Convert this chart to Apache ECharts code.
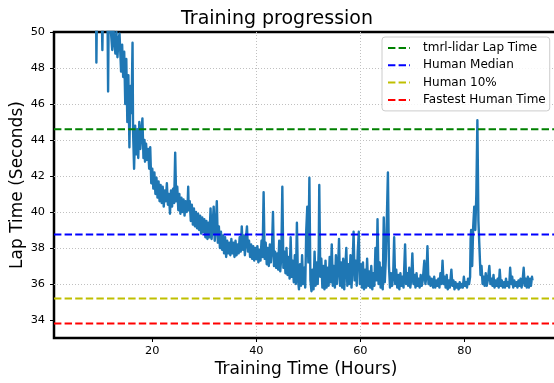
<!DOCTYPE html>
<html>
<head>
<meta charset="utf-8">
<script src="https://cdn.jsdelivr.net/npm/echarts@6/dist/echarts.min.js"></script>
<style>html,body{margin:0;padding:0;background:#fff;}#c{width:554px;height:383px;}</style>
</head>
<body>
<div id="c"></div>
<script>
const titleText = 'Training progression';
const xAxisName = 'Training Time (Hours)';
const yAxisName = 'Lap Time (Seconds)';
const xRange = [1.1, 98];
const yRange = [33, 50];
const xTicks = [20, 40, 60, 80];
const yTicks = [34, 36, 38, 40, 42, 44, 46, 48, 50];

const hours = [
9.2,9.25,9.35,9.8,10.3,10.4,10.5,11.0,11.4,11.5,11.6,12.0,12.3,12.5,12.9,13.1,13.3,13.5,13.7,14.0,
14.2,14.4,14.6,14.8,15.0,15.2,15.4,15.6,15.8,16.0,16.2,16.3,16.5,16.7,16.9,
17.1,17.3,17.5,17.7,17.9,18.1,18.3,18.5,18.6,18.8,19.0,19.2,19.4,19.6,19.8,
20.0,20.2,20.4,20.6,20.8,21.0,21.2,21.4,21.6,21.8,22.0,22.2,22.4,22.6,22.8,23.0,23.2,23.4,23.6,23.8,
24.0,24.2,24.4,24.6,24.8,25.0,25.2,25.4,25.6,25.8,26.0,26.2,26.4,26.6,26.8,26.9,27.0,27.2,27.4,27.6,
27.8,28.0,28.2,28.4,28.6,28.8,29.0,29.2,29.4,29.6,29.8,
30.0,30.2,30.4,30.6,30.8,31.0,31.2,31.4,31.6,31.8,32.0,32.2,32.4,32.6,32.8,33.0,33.2,33.4,33.6,33.8,
34.0,34.2,34.4,34.6,34.8,35.0,35.2,35.4,35.6,35.8,36.0,36.2,36.4,36.6,36.8,37.0,37.2,37.4,37.6,37.8,
38.0,38.2,38.4,38.6,38.8,39.0,39.2,39.4,39.6,39.8,40.0,40.2,40.4,40.6,40.8,41.0,41.2,41.4,41.6,41.8,
42.0,42.2,42.4,42.6,42.8,43.0,43.2,43.4,43.6,43.8,44.0,44.2,44.4,44.6,44.8,45.0,45.2,45.4,45.6,45.8,
46.0,46.2,46.4,46.6,46.8,47.0,47.2,47.4,47.6,47.8,48.0,48.2,48.4,48.6,48.8,49.0,49.2,49.4,49.6,49.8,
50.0,50.2,50.4,50.6,50.8,51.0,51.2,51.4,51.6,51.8,52.0,52.1,52.3,52.5,52.7,52.9,53.1,53.3,53.5,53.7,
53.9,54.1,54.3,54.5,54.7,54.9,55.1,55.3,55.5,55.7,55.9,56.1,56.3,56.5,56.7,56.9,57.1,57.3,57.5,57.7,
57.9,58.1,58.3,58.5,58.7,58.9,59.1,59.3,59.5,59.7,59.9,60.1,60.3,60.5,60.7,60.9,61.1,61.3,61.5,61.7,
61.9,62.1,62.3,62.5,62.7,62.9,63.1,63.3,63.5,63.7,63.9,64.1,64.3,64.5,64.7,64.9,65.1,65.3,65.5,65.7,
65.9,66.1,66.3,66.5,66.7,66.9,67.1,67.3,67.5,67.7,67.9,68.1,68.3,68.6,68.8,69.0,69.2,69.4,69.6,69.8,
70.0,70.2,70.4,70.6,70.8,71.0,71.2,71.4,71.6,71.8,72.0,72.3,72.5,72.7,72.9,73.1,73.3,
73.5,73.7,74.0,74.2,74.4,74.6,74.8,75.0,75.2,75.4,75.6,75.8,76.0,76.2,76.4,76.6,76.8,77.0,77.2,77.5,
77.7,77.9,78.1,78.3,78.5,78.7,78.9,79.1,79.3,79.5,79.7,79.9,80.1,80.3,80.5,80.7,80.9,81.1,81.2,81.3,
81.5,81.7,81.9,82.1,82.3,82.5,82.7,82.9,83.1,83.3,83.5,83.7,83.9,84.1,84.3,84.5,84.8,85.0,85.2,85.4,
85.6,85.8,86.0,86.2,86.4,86.6,86.8,87.0,87.2,87.4,87.6,87.8,88.0,88.2,88.4,88.6,88.8,89.0,89.2,89.4,
89.6,89.8,90.0,90.2,90.4,90.6,90.8,91.0,91.2,91.4,91.6,91.8,92.0,92.2,92.4,92.6,92.8,93.0,93.1
];
const lapTimes = [
51.0,48.3,51.0,50.5,50.8,49.0,51.0,50.5,50.6,46.7,50.5,50.2,49.0,50.3,48.8,50.0,48.6,49.6,49.9,47.8,
49.3,47.5,48.9,46.0,48.5,45.0,47.6,43.6,47.0,45.5,49.4,44.5,42.4,44.8,43.2,
44.6,43.0,45.0,43.5,44.5,45.2,43.0,44.0,42.8,43.8,42.9,43.5,42.4,43.6,41.6,
42.4,41.3,42.2,41.0,41.9,40.8,41.7,40.6,41.5,40.5,41.4,40.3,41.2,40.6,41.6,40.4,41.0,39.9,41.2,40.3,
41.3,40.5,43.3,40.6,41.4,40.1,41.0,39.9,40.8,40.0,40.7,39.8,40.6,40.0,40.5,41.4,40.1,40.6,39.5,40.4,
39.3,40.2,39.2,40.0,39.1,39.9,39.0,39.8,38.8,39.7,38.9,
39.6,38.6,39.5,38.5,39.4,38.6,40.2,38.5,39.3,40.3,38.4,39.1,40.6,38.3,39.2,38.0,38.9,37.9,38.7,37.7,
38.6,37.5,38.4,37.7,38.3,37.6,38.5,37.7,38.3,37.5,38.4,37.6,38.2,37.7,38.6,37.8,39.2,37.9,38.7,37.6,
38.5,39.2,37.8,38.4,37.5,38.2,37.4,38.1,37.3,38.0,37.4,38.1,37.2,37.9,37.3,38.4,37.5,41.1,37.4,38.3,
37.1,38.0,37.0,38.2,37.2,37.9,40.0,37.0,37.8,36.9,37.7,36.8,38.4,36.7,37.5,41.4,36.9,37.8,36.6,38.0,
36.5,37.5,36.3,38.6,36.4,37.3,36.1,37.6,36.0,39.4,36.3,35.7,37.1,35.9,37.6,36.0,36.9,35.8,39.0,40.3,
37.2,41.9,36.2,35.6,36.8,35.7,37.8,35.9,37.2,36.0,38.0,41.5,36.4,37.4,35.8,37.0,35.7,37.3,35.8,36.9,
35.9,37.5,36.1,38.2,35.9,37.0,35.8,37.6,36.0,36.8,38.5,35.9,37.2,35.8,37.4,35.7,36.9,38.0,35.9,37.1,
36.0,37.6,35.8,37.0,38.9,36.2,37.3,35.9,37.8,38.9,36.0,37.1,35.8,37.2,35.7,36.8,35.8,37.4,35.9,36.7,
35.8,37.0,35.7,36.6,35.9,38.0,36.2,39.6,36.0,37.2,35.8,36.9,35.7,39.7,36.1,37.4,39.7,42.2,37.0,35.8,
36.6,35.9,36.4,38.6,36.0,36.8,35.8,36.5,35.7,36.6,35.9,36.4,35.8,38.2,36.0,36.6,35.9,36.9,35.8,36.3,
37.7,36.0,36.5,35.8,36.6,35.9,36.3,35.8,36.5,35.9,36.2,37.3,36.0,36.4,38.1,36.0,36.4,
35.9,36.3,35.8,36.4,35.8,36.2,35.9,36.3,35.8,36.6,36.0,37.3,36.0,36.4,35.8,36.5,35.7,36.2,35.8,36.8,
35.9,36.2,35.7,36.1,35.8,36.0,35.7,36.1,35.8,36.0,35.8,36.4,35.9,36.1,35.8,36.3,36.0,36.4,38.5,39.0,
37.0,39.2,40.3,39.0,41.0,45.1,39.5,38.0,36.5,37.0,36.0,36.4,35.9,36.6,35.9,36.2,37.0,36.0,36.3,35.9,
36.5,35.8,36.2,35.9,36.3,35.8,36.8,35.9,36.2,35.8,36.1,35.8,36.3,35.9,36.1,35.8,36.9,36.0,36.4,35.8,
36.2,35.9,36.1,35.8,36.2,35.9,36.3,35.8,36.2,36.9,35.9,36.3,35.8,36.4,35.8,36.3,35.9,36.4,36.2
];

const refNames = ['tmrl-lidar Lap Time', 'Human Median', 'Human 10%', 'Fastest Human Time'];
const refValues = [44.6, 38.75, 35.2, 33.8];
const refColors = ['#008000', '#0000ff', '#bfbf00', '#ff0000'];

const font = 'DejaVu Sans';
const chart = echarts.init(document.getElementById('c'), null, {renderer: 'canvas'});

const series = [{
  type: 'line',
  name: 'progress',
  data: hours.map((h, i) => [h, lapTimes[i]]),
  showSymbol: false,
  symbol: 'none',
  lineStyle: {color: '#1f77b4', width: 2.4, join: 'round'},
  itemStyle: {color: '#1f77b4'},
  clip: true,
  z: 2
}];
refNames.forEach((n, i) => {
  series.push({
    type: 'line',
    name: n,
    data: [[xRange[0], refValues[i]], [xRange[1], refValues[i]]],
    symbol: 'none',
    showSymbol: false,
    lineStyle: {color: refColors[i], width: 2, type: [7.4, 3.2]},
    itemStyle: {color: refColors[i]},
    z: 3
  });
});

const gridLine = {show: true, showMinLine: false, showMaxLine: false,
  lineStyle: {color: '#c0c0c0', width: 1, type: [1, 2]}};

chart.setOption({
  animation: false,
  backgroundColor: '#ffffff',
  title: {
    text: titleText,
    left: 'center',
    top: 5,
    textStyle: {fontFamily: font, fontSize: 19, fontWeight: 'normal', color: '#000'}
  },
  grid: {
    left: 54, top: 32, width: 504, bottom: 45,
    outerBoundsMode: 'none', containLabel: false,
    show: true, borderColor: '#000', borderWidth: 2.5, backgroundColor: 'transparent'
  },
  legend: {
    data: refNames,
    orient: 'vertical',
    left: 382, top: 37,
    padding: [5, 4, 5, 5],
    itemGap: 5.3,
    itemWidth: 22, itemHeight: 13,
    itemStyle: {opacity: 0},
    backgroundColor: 'rgba(255,255,255,0.85)',
    borderColor: '#cccccc', borderWidth: 1, borderRadius: 3,
    textStyle: {fontFamily: font, fontSize: 12, color: '#000', padding: [0, 0, 0, 8]}
  },
  xAxis: {
    type: 'value',
    min: xRange[0], max: xRange[1],
    splitNumber: 5,
    name: xAxisName,
    nameLocation: 'middle',
    nameGap: 23,
    nameMoveOverlap: false,
    nameTextStyle: {fontFamily: font, fontSize: 17, color: '#000'},
    axisLine: {show: false},
    axisTick: {show: true, length: 4, customValues: xTicks, lineStyle: {color: '#000', width: 1}},
    axisLabel: {fontFamily: font, fontSize: 11.3, color: '#000', margin: 8, customValues: xTicks},
    splitLine: gridLine
  },
  yAxis: {
    type: 'value',
    min: yRange[0], max: yRange[1],
    splitNumber: 8,
    name: yAxisName,
    nameLocation: 'middle',
    nameGap: 28,
    nameMoveOverlap: false,
    nameTextStyle: {fontFamily: font, fontSize: 17, color: '#000'},
    axisLine: {show: false},
    axisTick: {show: true, length: 4, customValues: yTicks, lineStyle: {color: '#000', width: 1}},
    axisLabel: {fontFamily: font, fontSize: 11.3, color: '#000', margin: 9, customValues: yTicks},
    splitLine: gridLine
  },
  series: series
});
</script>
</body>
</html>
